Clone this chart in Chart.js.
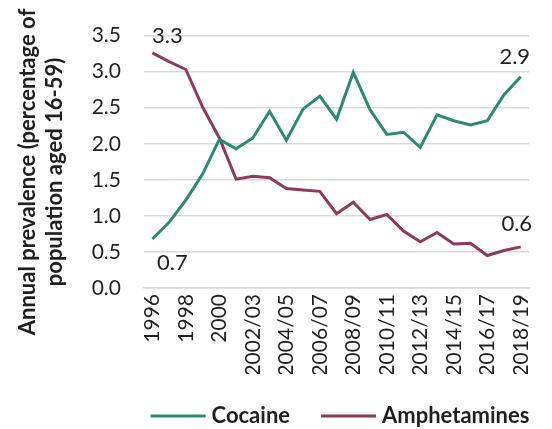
<!DOCTYPE html>
<html>
<head>
<meta charset="utf-8">
<script src="https://cdn.jsdelivr.net/npm/chart.js@4/dist/chart.umd.min.js"></script>
<style>
  html, body { margin: 0; padding: 0; background: #fff; }
  #wrap { width: 552px; height: 429px; }
</style>
</head>
<body>
<div id="wrap"><canvas id="drugChart"></canvas></div>
<script>
// survey years (every other one gets a tick label)
const years = ['1996', '1997', '1998', '1999', '2000', '2001/02', '2002/03', '2003/04',
  '2004/05', '2005/06', '2006/07', '2007/08', '2008/09', '2009/10', '2010/11', '2011/12',
  '2012/13', '2013/14', '2014/15', '2015/16', '2016/17', '2017/18', '2018/19'];

// annual prevalence, % of population aged 16-59
const cocaine = [0.68, 0.91, 1.22, 1.58, 2.06, 1.93, 2.08, 2.45, 2.05, 2.48, 2.66, 2.34,
  2.99, 2.47, 2.13, 2.16, 1.95, 2.40, 2.32, 2.26, 2.32, 2.68, 2.93];
const amphetamines = [3.26, 3.14, 3.03, 2.51, 2.08, 1.51, 1.55, 1.53, 1.38, 1.36, 1.34, 1.03,
  1.19, 0.95, 1.02, 0.79, 0.64, 0.77, 0.61, 0.62, 0.45, 0.52, 0.57];

const yTicks = [0, 0.5, 1.0, 1.5, 2.0, 2.5, 3.0, 3.5];
const yTitle = ['Annual prevalence (percentage of', 'population aged 16-59)'];

const green = '#2c8a72';
const maroon = '#8b3b5c';
const gridGrey = '#d9d9d9';
const textCol = '#1f1f1f';
const FONT = 'Lato';

// value labels on the first and last point of each line (offsets in px)
const endLabels = [
  { ds: 0, idx: 0, dx: 20, dy: 31 },
  { ds: 0, idx: cocaine.length - 1, dx: -6, dy: -13 },
  { ds: 1, idx: 0, dx: 15, dy: -10 },
  { ds: 1, idx: amphetamines.length - 1, dx: -4, dy: -16 }
];

const endLabelPlugin = {
  id: 'endLabels',
  afterDatasetsDraw(chart) {
    const ctx = chart.ctx;
    ctx.save();
    ctx.font = '22px ' + FONT;
    ctx.fillStyle = textCol;
    ctx.textAlign = 'center';
    ctx.textBaseline = 'alphabetic';
    endLabels.forEach(l => {
      const pt = chart.getDatasetMeta(l.ds).data[l.idx];
      const v = chart.data.datasets[l.ds].data[l.idx];
      ctx.fillText(v.toFixed(1), pt.x + l.dx, pt.y + l.dy);
    });
    ctx.restore();
  }
};

// two-line rotated axis title + legend row under the axis
const decorPlugin = {
  id: 'decor',
  afterDraw(chart) {
    const ctx = chart.ctx;
    ctx.save();
    ctx.font = 'bold 22px ' + FONT;
    ctx.fillStyle = textCol;
    ctx.textAlign = 'center';
    ctx.textBaseline = 'middle';
    const cy = 172;
    [28, 55].forEach((x, i) => {
      ctx.save();
      ctx.translate(x, cy);
      ctx.rotate(-Math.PI / 2);
      ctx.fillText(yTitle[i], 0, 0);
      ctx.restore();
    });

    // legend
    const sample = 55, gapText = 6, gapItem = 31, ly = 416;
    const items = chart.data.datasets.map(ds => ({
      text: ds.label, color: ds.borderColor, w: ctx.measureText(ds.label).width
    }));
    let total = 0;
    items.forEach((it, i) => { total += sample + gapText + it.w + (i ? gapItem : 0); });
    let x = 340 - total / 2;
    ctx.textAlign = 'left';
    items.forEach(it => {
      ctx.strokeStyle = it.color;
      ctx.lineWidth = 3;
      ctx.beginPath();
      ctx.moveTo(x, ly);
      ctx.lineTo(x + sample, ly);
      ctx.stroke();
      x += sample + gapText;
      ctx.fillText(it.text, x, ly);
      x += it.w + gapItem;
    });
    ctx.restore();
  }
};

const ctx = document.getElementById('drugChart').getContext('2d');
new Chart(ctx, {
  type: 'line',
  data: {
    labels: years,
    datasets: [{
      label: 'Cocaine',
      data: cocaine,
      borderColor: green,
      backgroundColor: green,
      borderWidth: 3,
      pointRadius: 0,
      tension: 0
    }, {
      label: 'Amphetamines',
      data: amphetamines,
      borderColor: maroon,
      backgroundColor: maroon,
      borderWidth: 3,
      pointRadius: 0,
      tension: 0
    }]
  },
  options: {
    responsive: true,
    maintainAspectRatio: false,
    animation: false,
    layout: { padding: { left: 0, right: 2, top: 19, bottom: 55 } },
    plugins: {
      tooltip: { enabled: false },
      legend: { display: false }
    },
    scales: {
      x: {
        offset: true,
        grid: { display: false, drawTicks: false },
        border: { color: gridGrey, width: 1.5 },
        afterFit(scale) { scale.height = 86; },
        ticks: {
          autoSkip: false,
          maxRotation: 90,
          minRotation: 90,
          padding: 6,
          color: textCol,
          font: { family: FONT, size: 21 },
          callback(v, i) { return i % 2 === 0 ? this.getLabelForValue(v) : ''; }
        }
      },
      y: {
        min: yTicks[0],
        max: yTicks[yTicks.length - 1],
        afterFit(scale) { scale.width = 144; },
        afterBuildTicks(scale) { scale.ticks = yTicks.map(v => ({ value: v })); },
        grid: { color: gridGrey, lineWidth: 1.5, drawTicks: false },
        border: { display: false },
        ticks: {
          padding: 23,
          color: textCol,
          font: { family: FONT, size: 21 },
          callback(v) { return Number(v).toFixed(1); }
        }
      }
    }
  },
  plugins: [endLabelPlugin, decorPlugin]
});
</script>
</body>
</html>
